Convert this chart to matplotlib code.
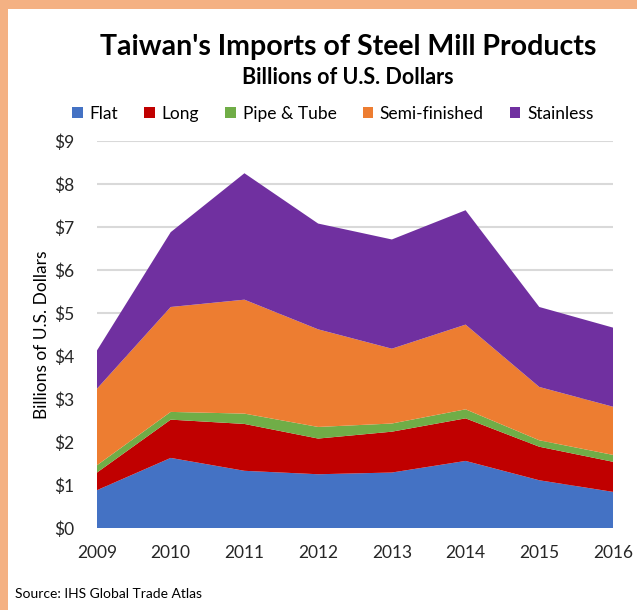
import matplotlib
matplotlib.use("Agg")
import matplotlib.pyplot as plt
from matplotlib.patches import Rectangle, Patch
from matplotlib.ticker import FuncFormatter, MultipleLocator

years = [2009, 2010, 2011, 2012, 2013, 2014, 2015, 2016]
series_names = ["Flat", "Long", "Pipe & Tube", "Semi-finished", "Stainless"]
flat = [0.88, 1.63, 1.33, 1.25, 1.29, 1.56, 1.11, 0.84]
long_ = [0.41, 0.89, 1.09, 0.83, 0.95, 0.99, 0.78, 0.70]
pipe = [0.17, 0.18, 0.24, 0.27, 0.19, 0.21, 0.15, 0.16]
semi = [1.78, 2.44, 2.65, 2.27, 1.74, 1.97, 1.24, 1.12]
stainless = [0.89, 1.74, 2.94, 2.46, 2.54, 2.66, 1.86, 1.84]
colors = ["#4472c4", "#c00000", "#70ad47", "#ed7d31", "#7030a0"]

plt.rcParams['font.family'] = ['Lato', 'DejaVu Sans']

W, H = 637, 610
fig = plt.figure(figsize=(W / 100, H / 100), dpi=100)
fig.patch.set_facecolor("white")

# peach border (top and left)
border = "#f4b183"
fig.patches.append(Rectangle((0, 1 - 9 / H), 1, 9 / H, transform=fig.transFigure,
                             facecolor=border, edgecolor="none", zorder=0))
fig.patches.append(Rectangle((0, 0), 8 / W, 1, transform=fig.transFigure,
                             facecolor=border, edgecolor="none", zorder=0))

left, right = 97 / W, 613 / W
bottom, top = 1 - 528 / H, 1 - 141 / H
ax = fig.add_axes([left, bottom, right - left, top - bottom])
ax.stackplot(years, flat, long_, pipe, semi, stainless, colors=colors,
             labels=series_names, linewidth=0, zorder=3)
ax.set_xlim(2009, 2016)
ax.set_ylim(0, 9)
ax.yaxis.set_major_locator(MultipleLocator(1))
ax.yaxis.set_major_formatter(FuncFormatter(lambda v, p: f"${int(v)}"))
ax.set_xticks(years)
ax.set_xticklabels([str(y) for y in years])
ax.grid(axis="y", color="#d9d9d9", linewidth=1.5, zorder=0)
ax.set_axisbelow(True)
for s in ax.spines.values():
    s.set_visible(False)
ax.tick_params(axis="both", length=0, labelsize=12.5, colors="#262626")
ax.tick_params(axis="x", pad=12)
ax.tick_params(axis="y", pad=16)
ax.set_ylabel("Billions of U.S. Dollars", fontsize=12.5, color="#000000", labelpad=3)

fig.text(348 / W, 1 - 47 / H, "Taiwan's Imports of Steel Mill Products", ha="center", va="center",
         fontsize=20.5, fontweight="bold", color="#000000")
fig.text(348 / W, 1 - 77 / H, "Billions of U.S. Dollars", ha="center", va="center",
         fontsize=15.5, fontweight="bold", color="#000000")

handles = [Patch(facecolor=c, edgecolor="none") for c in colors]
fig.legend(handles, series_names, loc="center", bbox_to_anchor=(333 / W, 1 - 114 / H), ncol=5,
           frameon=False, fontsize=12.5, handlelength=0.6, handleheight=0.6, handletextpad=0.4,
           columnspacing=1.5)

fig.text(15 / W, 1 - 594 / H, "Source: IHS Global Trade Atlas", ha="left", va="center",
         fontsize=10, color="#000000")

fig.savefig("out.png", dpi=100, facecolor="white")
